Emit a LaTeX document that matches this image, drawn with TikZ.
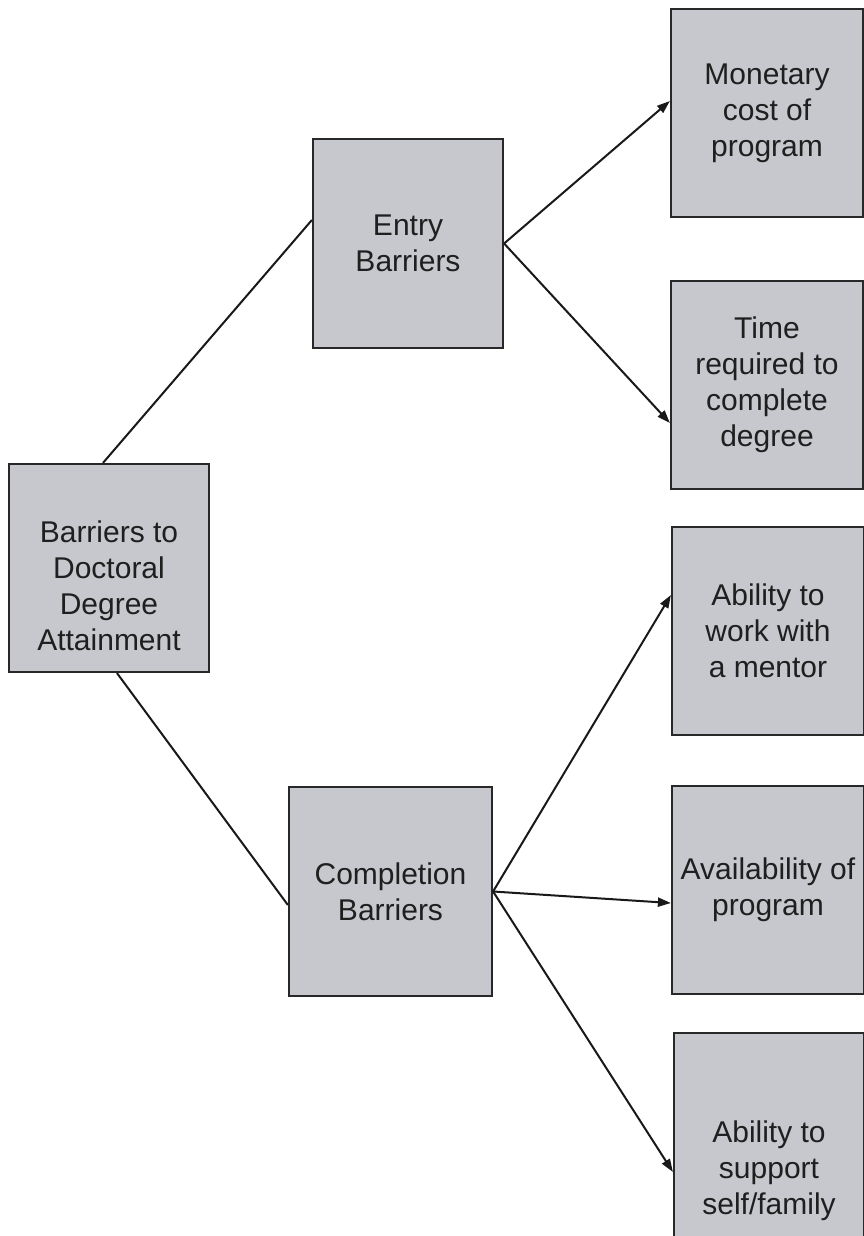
\documentclass[tikz,border=0pt]{standalone}
\usepackage{fontspec}
\setmainfont{Liberation Sans}
\usetikzlibrary{arrows.meta}
\definecolor{boxfill}{RGB}{198,200,205}
\definecolor{boxline}{RGB}{40,40,40}
\begin{document}
\begin{tikzpicture}[x=1pt,y=1pt,
  barbox/.style={draw=boxline, line width=2.2pt, fill=boxfill, rectangle,
    inner sep=0pt, align=center, font=\fontsize{30}{36}\selectfont,
    text=black!88},
  bartext/.style={inner sep=0pt, align=center, font=\fontsize{30}{36}\selectfont,
    text=black!88},
  conn/.style={line width=2pt, black!90},
  arr/.style={conn, -{Triangle[length=13pt,width=9pt]}}]
\useasboundingbox (0,0) rectangle (864,-1236);
\fill[white] (0,0) rectangle (864,-1236);
% left and middle
\node[barbox, minimum width=200pt, minimum height=208pt] (root) at (109,-568) {};
\node[bartext] (roottext) at ([yshift=-18pt]root.center)
  {Barriers to\\Doctoral\\Degree\\Attainment};
\node[barbox, minimum width=190pt, minimum height=209pt] (entry) at (408,-243.5)
  {Entry\\Barriers};
\node[barbox, minimum width=203pt, minimum height=209pt] (compl) at (390.5,-891.5)
  {Completion\\Barriers};
% right column
\node[barbox, minimum width=192pt, minimum height=208pt] (money) at (767,-113)
  {Monetary\\cost of\\program};
\node[barbox, minimum width=192pt, minimum height=208pt] (time) at (767,-385)
  {Time\\required to\\complete\\degree};
\node[barbox, minimum width=192pt, minimum height=208pt] (mentor) at (768,-631)
  {Ability to\\work with\\a mentor};
\node[barbox, minimum width=192pt, minimum height=208pt] (avail) at (768,-890)
  {Availability of\\program};
\node[barbox, minimum width=190pt, minimum height=276pt] (self) at (769,-1171)
  {Ability to\\support\\self/family};
% connectors
\draw[conn] ([xshift=-6pt]root.north) -- ([yshift=23.5pt]entry.west);
\draw[conn] ([xshift=8pt]root.south) -- ([yshift=-13.5pt]compl.west);
\draw[arr] (entry.east) -- ([yshift=12pt]money.west);
\draw[arr] (entry.east) -- ([yshift=-38pt]time.west);
\draw[arr] (compl.east) -- ([yshift=36pt]mentor.west);
\draw[arr] (compl.east) -- ([yshift=-13pt]avail.west);
\draw[arr] (compl.east) -- ([yshift=-1pt]self.west);
\end{tikzpicture}
\end{document}
